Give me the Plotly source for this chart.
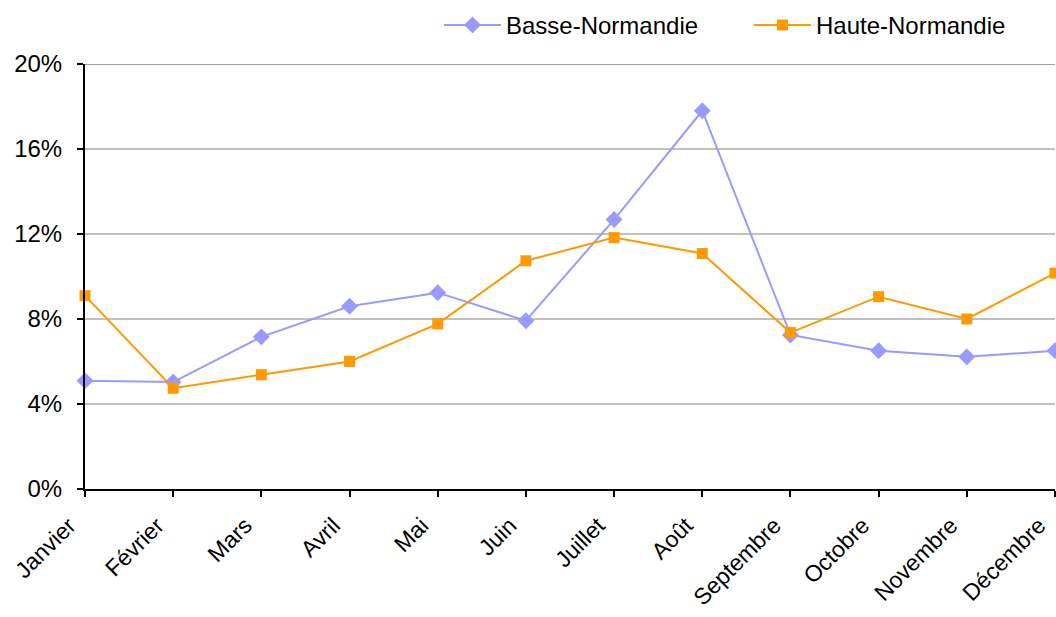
import plotly.graph_objects as go

months = ["Janvier", "Février", "Mars", "Avril", "Mai", "Juin", "Juillet",
          "Août", "Septembre", "Octobre", "Novembre", "Décembre"]
basse = [5.1, 5.03, 7.16, 8.6, 9.24, 7.92, 12.68, 17.8, 7.25, 6.51, 6.22, 6.51]
haute = [9.1, 4.74, 5.38, 6.0, 7.77, 10.74, 11.83, 11.08, 7.36, 9.05, 8.0, 10.16]
y_ticks = [0, 4, 8, 12, 16, 20]
y_labels = [f"{v}%" for v in y_ticks]

font = "Liberation Sans, Arial, sans-serif"

fig = go.Figure()
fig.add_trace(go.Scatter(
    x=list(range(len(months))), y=basse, name="Basse-Normandie",
    mode="lines+markers", cliponaxis=False,
    line=dict(color="#9999FF", width=2),
    marker=dict(symbol="diamond", size=13, color="#9999FF"),
))
fig.add_trace(go.Scatter(
    x=list(range(len(months))), y=haute, name="Haute-Normandie",
    mode="lines+markers", cliponaxis=False,
    line=dict(color="#FF9900", width=2),
    marker=dict(symbol="square", size=11, color="#FF9900"),
))

fig.update_layout(
    width=1056, height=617,
    margin=dict(l=85, r=1, t=64, b=128, autoexpand=False),
    paper_bgcolor="white", plot_bgcolor="white",
    font=dict(family=font, size=24, color="black"),
    showlegend=True,
    legend=dict(orientation="h", xref="container", yref="container",
                x=0.4157, xanchor="left", y=0.959, yanchor="middle",
                font=dict(size=24), bgcolor="rgba(0,0,0,0)",
                itemwidth=57, entrywidth=238, entrywidthmode="pixels"),
    shapes=[dict(type="line", xref="paper", yref="y", x0=0, x1=1, y0=20, y1=20,
                 line=dict(color="#808080", width=1.5))],
)
fig.update_xaxes(
    range=[0, 11], tickmode="array", tickvals=list(range(len(months))), ticktext=months,
    tickangle=-45, ticks="outside", ticklen=6, tickcolor="black", tickwidth=2,
    showline=True, linecolor="black", linewidth=2, showgrid=False, zeroline=False,
    tickfont=dict(size=23), ticklabelstandoff=6, ticklabelshift=-16,
    ticklabeloverflow="allow", automargin=False,
)
fig.update_yaxes(
    range=[0, 20], tickmode="array", tickvals=y_ticks, ticktext=y_labels,
    ticks="outside", ticklen=6, tickcolor="black", tickwidth=2,
    showline=True, linecolor="black", linewidth=2,
    showgrid=True, gridcolor="#C0C0C0", gridwidth=1.5, zeroline=False,
    tickfont=dict(size=24), ticklabelstandoff=10, automargin=False,
)

fig.write_html(
    "out.html",
    config={"displayModeBar": False},
    post_script="document.body.style.margin='0';document.body.style.overflow='hidden';",
)
